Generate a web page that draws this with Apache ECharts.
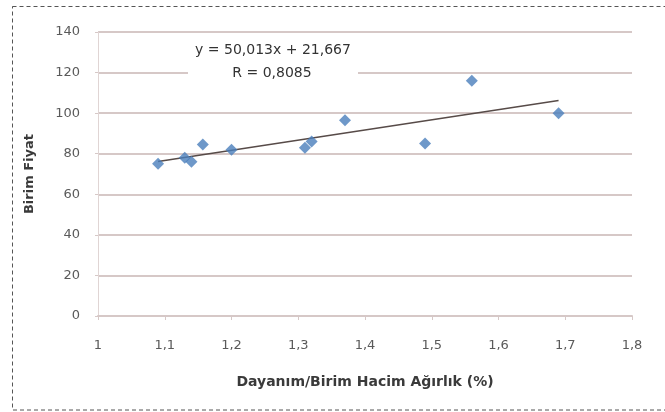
<!DOCTYPE html>
<html>
<head>
<meta charset="utf-8">
<script src="https://cdn.jsdelivr.net/npm/echarts@6/dist/echarts.min.js"></script>
<style>
html,body{margin:0;padding:0;background:#fff;}
#chart{width:665px;height:412px;}
</style>
</head>
<body>
<div id="chart"></div>
<script>
// Data
const xValues = [1.09, 1.13, 1.14, 1.157, 1.2, 1.31, 1.32, 1.37, 1.49, 1.56, 1.69];
const yValues = [75, 78, 76, 84.5, 82, 83, 86, 96.5, 85, 116, 100];
const trendSlope = 50.013;
const trendIntercept = 21.667;
const equationText = 'y = 50,013x + 21,667';
const rText = 'R = 0,8085';
const xTitle = 'Dayanım/Birim Hacim Ağırlık (%)';
const yTitle = 'Birim Fiyat';

const points = xValues.map((x, i) => [x, yValues[i]]);
const xMin = Math.min(...xValues), xMax = Math.max(...xValues);
const trend = [xMin, xMax].map(x => [x, trendSlope * x + trendIntercept]);

const chart = echarts.init(document.getElementById('chart'));
const labelFont = '"DejaVu Sans", sans-serif';
chart.setOption({
  animation: false,
  backgroundColor: '#fff',
  grid: {left: 98, right: 33, top: 32, bottom: 96},
  xAxis: {
    type: 'value', min: 1, max: 1.8, interval: 0.1,
    name: xTitle, nameLocation: 'middle', nameGap: 59,
    nameTextStyle: {fontFamily: labelFont, fontSize: 14, fontWeight: 'bold', color: '#3a3a3a'},
    axisLine: {show: true, lineStyle: {color: '#d6c8c7', width: 2}},
    axisTick: {show: true, length: 4, lineStyle: {color: '#d6c8c7'}},
    axisLabel: {margin: 23, color: '#5a5a5a', fontSize: 13, fontFamily: labelFont,
      formatter: v => String(Math.round(v * 10) / 10).replace('.', ',')},
    splitLine: {show: false}
  },
  yAxis: {
    type: 'value', min: 0, max: 140, interval: 20,
    name: yTitle, nameLocation: 'middle', nameGap: 62, nameRotate: 90,
    nameTextStyle: {fontFamily: labelFont, fontSize: 13, fontWeight: 'bold', color: '#3a3a3a'},
    axisLine: {show: true, lineStyle: {color: '#e0d5d4', width: 1}},
    axisTick: {show: true, length: 3, lineStyle: {color: '#d6c8c7'}},
    axisLabel: {margin: 18, color: '#5a5a5a', fontSize: 13, fontFamily: labelFont},
    splitLine: {show: true, lineStyle: {color: '#d6c8c7', width: 2}}
  },
  graphic: [
    {type: 'rect', shape: {x: 12.5, y: 6.5, width: 700, height: 403.5},
     style: {fill: 'none', stroke: '#555', lineWidth: 1, lineDash: [4, 3]}, silent: true, z: 0},
    {type: 'rect', shape: {x: 188, y: 40, width: 170, height: 44},
     style: {fill: '#fff'}, silent: true, z: 10},
    {type: 'text', x: 273, y: 50, z: 11, style: {text: equationText, fontFamily: labelFont, fontSize: 14,
     fill: '#333', align: 'center', verticalAlign: 'middle'}},
    {type: 'text', x: 272, y: 73, z: 11, style: {text: rText, fontFamily: labelFont, fontSize: 14,
     fill: '#333', align: 'center', verticalAlign: 'middle'}}
  ],
  series: [
    {type: 'line', data: trend, symbol: 'none', z: 2,
     lineStyle: {color: '#574b48', width: 1.5}},
    {type: 'scatter', data: points, symbol: 'diamond', symbolSize: 12, z: 3,
     itemStyle: {color: '#4a7ebb'}}
  ]
});
</script>
</body>
</html>
